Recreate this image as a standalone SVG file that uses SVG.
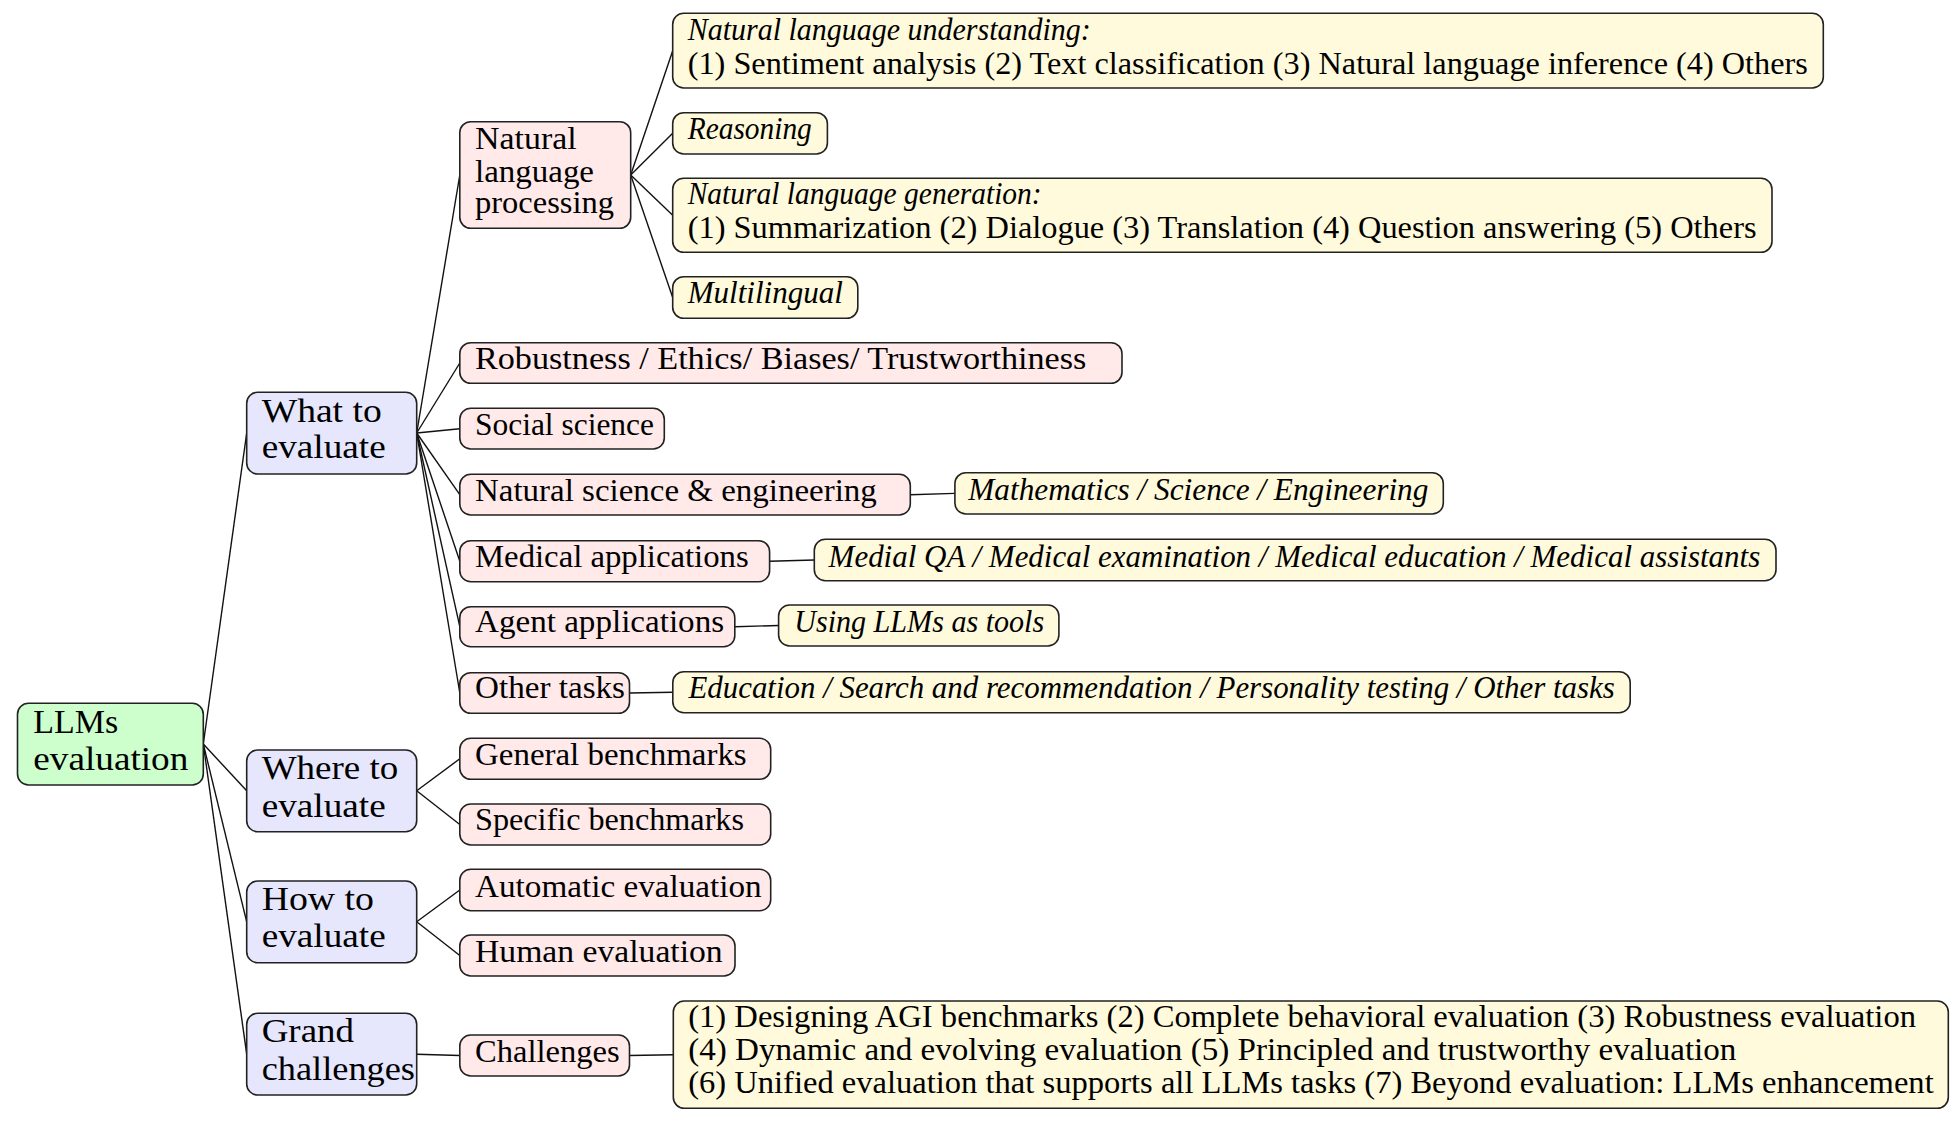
<svg xmlns="http://www.w3.org/2000/svg" width="1958" height="1127" viewBox="0 0 1958 1127">
<style>
  .box{stroke:#222;stroke-width:1.6}
  .root{fill:#ccffcc}
  .l1{fill:#e6e6fc}
  .l2{fill:#ffe9e9}
  .l3{fill:#fffadb}
  text{font-family:"Liberation Serif","Times New Roman",serif;fill:#000}
  .t1{font-size:34px}
  .t2{font-size:31px}
  .it{font-style:italic}
  .conn line{stroke:#111;stroke-width:1.4}
</style>
<rect width="1958" height="1127" fill="#fff"/>
<g class="conn">
  <line x1="203.3" y1="744" x2="246.7" y2="433"/>
  <line x1="203.3" y1="744" x2="246.7" y2="790.8"/>
  <line x1="203.3" y1="744" x2="246.7" y2="921.8"/>
  <line x1="203.3" y1="744" x2="246.7" y2="1054.2"/>
  <line x1="416.7" y1="433" x2="459.8" y2="175"/>
  <line x1="416.7" y1="433" x2="459.8" y2="363"/>
  <line x1="416.7" y1="433" x2="459.8" y2="428.7"/>
  <line x1="416.7" y1="433" x2="459.8" y2="494.7"/>
  <line x1="416.7" y1="433" x2="459.8" y2="561.2"/>
  <line x1="416.7" y1="433" x2="459.8" y2="626.7"/>
  <line x1="416.7" y1="433" x2="459.8" y2="693"/>
  <line x1="630.7" y1="175" x2="672.7" y2="50.7"/>
  <line x1="630.7" y1="175" x2="672.7" y2="133.3"/>
  <line x1="630.7" y1="175" x2="672.7" y2="215.3"/>
  <line x1="630.7" y1="175" x2="672.7" y2="297.5"/>
  <line x1="910.3" y1="494.7" x2="954.9" y2="493.4"/>
  <line x1="769.6" y1="561.2" x2="814.3" y2="560"/>
  <line x1="734.8" y1="626.7" x2="778.6" y2="625.5"/>
  <line x1="629.5" y1="693" x2="672.8" y2="692.2"/>
  <line x1="416.7" y1="790.8" x2="459.8" y2="758.8"/>
  <line x1="416.7" y1="790.8" x2="459.8" y2="824.5"/>
  <line x1="416.7" y1="921.8" x2="459.8" y2="890"/>
  <line x1="416.7" y1="921.8" x2="459.8" y2="955.5"/>
  <line x1="416.7" y1="1054.2" x2="459.8" y2="1055.5"/>
  <line x1="629.5" y1="1055.5" x2="673.3" y2="1054.7"/>
</g>

<g id="root">
  <rect class="box root" x="17.5" y="703.3" width="185.8" height="81.7" rx="11"/>
  <text class="t1" x="33.3" y="732.7" textLength="85" lengthAdjust="spacingAndGlyphs">LLMs</text>
  <text class="t1" x="33.3" y="770" textLength="155" lengthAdjust="spacingAndGlyphs">evaluation</text>
</g>

<g id="what">
  <rect class="box l1" x="246.7" y="392.3" width="170" height="81.7" rx="11"/>
  <text class="t1" x="261.7" y="421.7" textLength="120" lengthAdjust="spacingAndGlyphs">What to</text>
  <text class="t1" x="261.7" y="458.3" textLength="124" lengthAdjust="spacingAndGlyphs">evaluate</text>
</g>
<g id="where">
  <rect class="box l1" x="246.7" y="750" width="170" height="81.7" rx="11"/>
  <text class="t1" x="261.7" y="779.3" textLength="136.6" lengthAdjust="spacingAndGlyphs">Where to</text>
  <text class="t1" x="261.7" y="816.7" textLength="124" lengthAdjust="spacingAndGlyphs">evaluate</text>
</g>
<g id="how">
  <rect class="box l1" x="246.7" y="881" width="170" height="81.7" rx="11"/>
  <text class="t1" x="261.7" y="910" textLength="112.3" lengthAdjust="spacingAndGlyphs">How to</text>
  <text class="t1" x="261.7" y="947.3" textLength="124" lengthAdjust="spacingAndGlyphs">evaluate</text>
</g>
<g id="grand">
  <rect class="box l1" x="246.7" y="1013.3" width="170" height="81.7" rx="11"/>
  <text class="t1" x="261.7" y="1041.7" textLength="92.3" lengthAdjust="spacingAndGlyphs">Grand</text>
  <text class="t1" x="261.7" y="1080" textLength="153.3" lengthAdjust="spacingAndGlyphs">challenges</text>
</g>

<g id="nlp">
  <rect class="box l2" x="459.8" y="121.7" width="170.9" height="106.6" rx="11"/>
  <text class="t2" x="475" y="149.3" textLength="101.7" lengthAdjust="spacingAndGlyphs">Natural</text>
  <text class="t2" x="475" y="181.7" textLength="119" lengthAdjust="spacingAndGlyphs">language</text>
  <text class="t2" x="475" y="213.3" textLength="139" lengthAdjust="spacingAndGlyphs">processing</text>
</g>
<g id="robust">
  <rect class="box l2" x="459.8" y="342.7" width="662.2" height="40.6" rx="11"/>
  <text class="t2" x="475" y="369.3" textLength="611.3" lengthAdjust="spacingAndGlyphs">Robustness / Ethics/ Biases/ Trustworthiness</text>
</g>
<g id="social">
  <rect class="box l2" x="459.8" y="408.3" width="204.5" height="40.7" rx="11"/>
  <text class="t2" x="475" y="435" textLength="179" lengthAdjust="spacingAndGlyphs">Social science</text>
</g>
<g id="natsci">
  <rect class="box l2" x="459.8" y="474.3" width="450.5" height="40.7" rx="11"/>
  <text class="t2" x="475" y="500.7" textLength="401.8" lengthAdjust="spacingAndGlyphs">Natural science &amp; engineering</text>
</g>
<g id="medical">
  <rect class="box l2" x="459.8" y="540.7" width="309.8" height="41" rx="11"/>
  <text class="t2" x="475" y="566.7" textLength="273.7" lengthAdjust="spacingAndGlyphs">Medical applications</text>
</g>
<g id="agent">
  <rect class="box l2" x="459.8" y="606.7" width="275" height="40" rx="11"/>
  <text class="t2" x="475" y="631.7" textLength="249.1" lengthAdjust="spacingAndGlyphs">Agent applications</text>
</g>
<g id="other">
  <rect class="box l2" x="459.8" y="672.7" width="169.7" height="40.6" rx="11"/>
  <text class="t2" x="475" y="698.3" textLength="150" lengthAdjust="spacingAndGlyphs">Other tasks</text>
</g>
<g id="general">
  <rect class="box l2" x="459.8" y="738.3" width="310.9" height="41" rx="11"/>
  <text class="t2" x="475" y="765" textLength="271.7" lengthAdjust="spacingAndGlyphs">General benchmarks</text>
</g>
<g id="specific">
  <rect class="box l2" x="459.8" y="804" width="310.9" height="41" rx="11"/>
  <text class="t2" x="475" y="830" textLength="269" lengthAdjust="spacingAndGlyphs">Specific benchmarks</text>
</g>
<g id="automatic">
  <rect class="box l2" x="459.8" y="869.3" width="310.9" height="41.4" rx="11"/>
  <text class="t2" x="475" y="896.7" textLength="286.7" lengthAdjust="spacingAndGlyphs">Automatic evaluation</text>
</g>
<g id="human">
  <rect class="box l2" x="459.8" y="935" width="275.2" height="41" rx="11"/>
  <text class="t2" x="475" y="961.7" textLength="247.7" lengthAdjust="spacingAndGlyphs">Human evaluation</text>
</g>
<g id="challenges">
  <rect class="box l2" x="459.8" y="1035" width="169.7" height="41" rx="11"/>
  <text class="t2" x="475" y="1061.7" textLength="144.6" lengthAdjust="spacingAndGlyphs">Challenges</text>
</g>

<g id="nlu">
  <rect class="box l3" x="672.7" y="13.3" width="1150.6" height="74.7" rx="11"/>
  <text class="t2 it" x="687.7" y="40" textLength="403.1" lengthAdjust="spacingAndGlyphs">Natural language understanding:</text>
  <text class="t2" x="687.7" y="74" textLength="1120.1" lengthAdjust="spacingAndGlyphs">(1) Sentiment analysis (2) Text classification (3) Natural language inference (4) Others</text>
</g>
<g id="reasoning">
  <rect class="box l3" x="672.7" y="112.7" width="154.7" height="41.3" rx="11"/>
  <text class="t2 it" x="687.7" y="139.3" textLength="124.1" lengthAdjust="spacingAndGlyphs">Reasoning</text>
</g>
<g id="nlg">
  <rect class="box l3" x="672.7" y="178.3" width="1099.3" height="74" rx="11"/>
  <text class="t2 it" x="687.7" y="204" textLength="354" lengthAdjust="spacingAndGlyphs">Natural language generation:</text>
  <text class="t2" x="687.7" y="238.3" textLength="1068.9" lengthAdjust="spacingAndGlyphs">(1) Summarization (2) Dialogue (3) Translation (4) Question answering (5) Others</text>
</g>
<g id="multilingual">
  <rect class="box l3" x="672.7" y="276.7" width="185.1" height="41.6" rx="11"/>
  <text class="t2 it" x="687.7" y="303.3" textLength="155.3" lengthAdjust="spacingAndGlyphs">Multilingual</text>
</g>
<g id="math">
  <rect class="box l3" x="954.9" y="472.7" width="488.4" height="41.3" rx="11"/>
  <text class="t2 it" x="968.3" y="500" textLength="460.1" lengthAdjust="spacingAndGlyphs">Mathematics / Science / Engineering</text>
</g>
<g id="medial">
  <rect class="box l3" x="814.3" y="539.3" width="961.7" height="41.4" rx="11"/>
  <text class="t2 it" x="828.6" y="566.7" textLength="931.6" lengthAdjust="spacingAndGlyphs">Medial QA / Medical examination / Medical education / Medical assistants</text>
</g>
<g id="tools">
  <rect class="box l3" x="778.6" y="605" width="280.3" height="41" rx="11"/>
  <text class="t2 it" x="794.2" y="631.7" textLength="250" lengthAdjust="spacingAndGlyphs">Using LLMs as tools</text>
</g>
<g id="education">
  <rect class="box l3" x="672.8" y="671.7" width="957.4" height="41" rx="11"/>
  <text class="t2 it" x="688.4" y="698.3" textLength="926.4" lengthAdjust="spacingAndGlyphs">Education / Search and recommendation / Personality testing / Other tasks</text>
</g>
<g id="challenge-list">
  <rect class="box l3" x="673.3" y="1001" width="1275" height="107.3" rx="11"/>
  <text class="t2" x="688.2" y="1026.7" textLength="1227.8" lengthAdjust="spacingAndGlyphs">(1) Designing AGI benchmarks (2) Complete behavioral evaluation (3) Robustness evaluation</text>
  <text class="t2" x="688.2" y="1060" textLength="1048.2" lengthAdjust="spacingAndGlyphs">(4) Dynamic and evolving evaluation (5) Principled and trustworthy evaluation</text>
  <text class="t2" x="688.2" y="1093.3" textLength="1245.5" lengthAdjust="spacingAndGlyphs">(6) Unified evaluation that supports all LLMs tasks (7) Beyond evaluation: LLMs enhancement</text>
</g>
</svg>
